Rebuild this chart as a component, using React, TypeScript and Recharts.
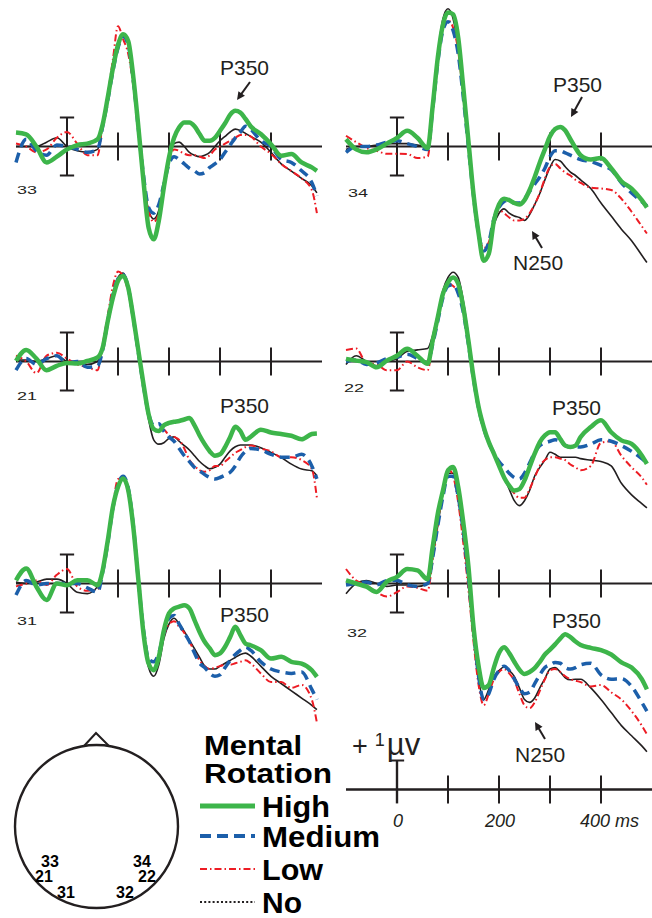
import React from 'react';
import { LineChart, Line, XAxis, YAxis, ReferenceLine } from 'recharts';

// time points (ms)
const TIMES = [
  -100, -80, -60, -40, -20, 0, 20, 40, 60, 70,
  80, 90, 100, 110, 120, 130, 140, 150, 160, 170,
  180, 190, 200, 210, 220, 230, 240, 250, 260, 270,
  280, 290, 300, 310, 320, 330, 340, 350, 360, 380,
  400, 420, 440, 460, 480, 490,
];

// ---- electrode 33 ----
const E33_HIGH = [
  0.48, 0.42, 0.0, -0.55, -0.35, -0.1, 0.05, 0.1, 0.25, 0.77,
  1.7, 2.7, 3.5, 3.87, 3.64, 2.4, 0.66, -1.2, -2.8, -3.2,
  -2.56, -1.4, -0.38, 0.3, 0.66, 0.83, 0.83, 0.7, 0.43, 0.2,
  0.2, 0.3, 0.54, 0.8, 1.1, 1.23, 1.17, 0.95, 0.7, 0.43,
  0.08, -0.32, -0.26, -0.55, -0.72, -0.84,
];
const E33_MEDIUM = [
  -0.55, 0.25, -0.15, -0.3, 0.05, 0.0, -0.1, -0.2, -0.1, 0.7,
  1.6, 2.6, 3.4, 3.8, 3.5, 2.3, 0.6, -1.0, -2.1, -2.3,
  -2.0, -1.3, -0.6, -0.35, -0.45, -0.6, -0.75, -0.84, -0.95, -0.9,
  -0.72, -0.6, -0.45, -0.2, 0.05, 0.3, 0.5, 0.7, 0.6, 0.2,
  0.0, -0.44, -0.55, -0.84, -1.24, -1.7,
];
const E33_LOW = [
  0.1, 0.0, -0.2, -0.1, 0.3, 0.5, 0.1, -0.3, -0.3, 0.8,
  1.8, 3.0, 4.15, 3.7, 3.2, 2.1, 0.5, -1.1, -2.2, -2.6,
  -2.3, -1.4, -0.5, -0.1, -0.15, -0.25, -0.3, -0.3, -0.35, -0.4,
  -0.3, -0.1, 0.0, 0.1, 0.2, 0.3, 0.4, 0.4, 0.35, 0.0,
  -0.25, -0.6, -0.85, -1.1, -1.5, -2.3,
];
const E33_NO = [
  0.0, 0.0, 0.0, 0.15, 0.3, 0.0, -0.15, -0.2, -0.1, 0.7,
  1.7, 2.8, 3.6, 3.85, 3.5, 2.3, 0.6, -1.1, -2.2, -2.5,
  -2.2, -1.3, -0.3, 0.1, 0.15, 0.0, -0.2, -0.3, -0.35, -0.3,
  -0.2, 0.0, 0.2, 0.35, 0.5, 0.6, 0.55, 0.45, 0.35, 0.15,
  -0.2, -0.6, -0.85, -1.1, -1.35, -1.6,
];

// ---- electrode 34 ----
const E34_HIGH = [
  0.25, -0.1, -0.2, -0.1, 0.1, 0.3, 0.54, 0.3, -0.05, 1.4,
  3.07, 4.2, 4.62, 4.56, 3.76, 2.03, 0.2, -1.64, -3.0, -3.94,
  -3.7, -2.56, -2.0, -1.8, -1.85, -1.95, -2.0, -1.85, -1.5, -1.05,
  -0.55, -0.1, 0.35, 0.6, 0.67, 0.55, 0.25, -0.05, -0.3, -0.45,
  -0.4, -0.75, -1.2, -1.45, -1.85, -2.1,
];
const E34_MEDIUM = [
  -0.2, 0.0, 0.0, 0.05, 0.15, 0.2, 0.1, 0.0, -0.1, 1.3,
  2.9, 4.0, 4.3, 4.0, 3.2, 1.7, 0.0, -1.7, -3.0, -3.6,
  -3.3, -2.5, -2.1, -1.9, -1.85, -1.95, -1.95, -1.8, -1.55, -1.3,
  -1.05, -0.75, -0.35, -0.15, -0.15, -0.22, -0.3, -0.38, -0.45, -0.52,
  -0.65, -0.8, -1.25, -1.6, -1.9, -2.05,
];
const E34_LOW = [
  0.37, 0.15, -0.05, -0.15, -0.25, -0.25, -0.26, -0.4, -0.35, 1.2,
  2.9, 4.1, 4.35, 4.1, 3.3, 1.7, 0.0, -1.7, -3.0, -3.5,
  -3.3, -2.6, -2.2, -2.3, -2.45, -2.55, -2.55, -2.5, -2.3, -2.0,
  -1.6, -1.1, -0.7, -0.6, -0.75, -0.9, -1.0, -1.15, -1.25, -1.42,
  -1.45, -1.5, -1.8, -2.25, -2.75, -3.0,
];
const E34_NO = [
  -0.1, 0.0, 0.0, 0.05, 0.1, 0.1, 0.1, 0.05, 0.0, 1.5,
  3.2, 4.4, 4.75, 4.4, 3.4, 1.8, 0.0, -1.7, -3.0, -3.6,
  -3.4, -2.7, -2.3, -2.15, -2.3, -2.4, -2.45, -2.55, -2.35, -2.0,
  -1.62, -1.15, -0.72, -0.45, -0.5, -0.7, -0.88, -1.0, -1.15, -1.45,
  -1.95, -2.4, -2.85, -3.25, -3.75, -4.0,
];

// ---- electrode 21 ----
const E21_HIGH = [
  0.02, 0.4, 0.1, -0.3, -0.15, -0.05, -0.07, 0.02, 0.14, 0.48,
  1.4, 2.2, 2.78, 2.95, 2.55, 1.52, 0.37, -0.78, -1.82, -2.33,
  -2.4, -2.2, -2.12, -2.08, -2.05, -2.0, -1.95, -2.2, -2.55, -2.85,
  -3.1, -3.25, -3.2, -2.95, -2.6, -2.25, -2.4, -2.7, -2.6, -2.35,
  -2.45, -2.5, -2.56, -2.68, -2.5, -2.48,
];
const E21_MEDIUM = [
  -0.3, 0.1, -0.1, 0.1, 0.2, -0.05, 0.0, -0.2, -0.15, 0.4,
  1.4, 2.3, 2.85, 3.0, 2.55, 1.5, 0.3, -0.85, -1.8, -2.2,
  -2.15, -2.4, -2.6, -2.75, -3.0, -3.25, -3.45, -3.65, -3.77, -3.9,
  -4.0, -4.05, -4.0, -3.92, -3.82, -3.6, -3.3, -3.1, -3.0, -3.05,
  -3.2, -3.3, -3.3, -3.2, -3.6, -4.05,
];
const E21_LOW = [
  0.2, 0.0, -0.4, 0.2, 0.3, 0.1, -0.1, -0.2, -0.3, 0.6,
  1.6, 2.6, 3.1, 2.95, 2.4, 1.4, 0.2, -0.9, -1.9, -2.3,
  -2.4, -2.35, -2.55, -2.6, -2.7, -3.0, -3.4, -3.6, -3.75, -3.8,
  -3.75, -3.6, -3.6, -3.45, -3.3, -3.15, -3.05, -2.95, -2.9, -3.0,
  -3.1, -3.3, -3.3, -3.4, -3.7, -4.7,
];
const E21_NO = [
  0.05, 0.05, 0.0, 0.1, 0.2, 0.0, -0.05, -0.1, 0.0, 0.5,
  1.4, 2.3, 2.9, 3.05, 2.6, 1.5, 0.3, -0.9, -2.0, -2.7,
  -2.85, -2.8, -2.65, -2.6, -2.75, -2.9, -3.05, -3.25, -3.45, -3.6,
  -3.7, -3.65, -3.54, -3.3, -3.08, -2.94, -2.88, -2.88, -2.88, -2.97,
  -3.14, -3.31, -3.54, -3.71, -3.77, -3.94,
];

// ---- electrode 22 ----
const E22_HIGH = [
  0.09, 0.03, -0.02, -0.2, 0.03, 0.2, 0.44, 0.2, -0.08, 0.72,
  1.53, 2.33, 2.73, 2.9, 2.68, 1.87, 0.72, -0.54, -1.57, -2.26,
  -2.78, -3.18, -3.59, -4.0, -4.28, -4.45, -4.4, -4.1, -3.64, -3.18,
  -2.78, -2.55, -2.44, -2.44, -2.67, -2.9, -2.95, -2.9, -2.6, -2.26,
  -2.03, -2.44, -2.72, -2.84, -3.24, -3.53,
];
const E22_MEDIUM = [
  0.0, 0.05, -0.1, -0.05, 0.1, 0.15, 0.25, 0.1, -0.05, 0.6,
  1.4, 2.2, 2.6, 2.65, 2.35, 1.7, 0.6, -0.6, -1.6, -2.3,
  -2.8, -3.15, -3.45, -3.65, -3.85, -4.0, -4.05, -3.85, -3.5, -3.15,
  -2.9, -2.8, -2.75, -2.7, -2.75, -2.9, -2.95, -2.95, -2.95, -2.85,
  -2.7, -2.75, -2.9, -3.1, -3.35, -3.5,
];
const E22_LOW = [
  0.4, 0.45, -0.05, -0.1, -0.3, -0.3, 0.0, -0.2, -0.3, 0.6,
  1.5, 2.4, 2.7, 2.6, 2.4, 1.9, 0.8, -0.5, -1.6, -2.3,
  -2.8, -3.2, -3.6, -4.0, -4.3, -4.55, -4.7, -4.7, -4.4, -4.0,
  -3.6, -3.4, -3.3, -3.3, -3.35, -3.4, -3.55, -3.65, -3.75, -3.6,
  -2.8, -2.75, -3.25, -3.65, -4.0, -4.25,
];
const E22_NO = [
  -0.1, 0.2, 0.0, -0.15, 0.0, 0.1, 0.35, 0.4, 0.45, 0.9,
  1.65, 2.45, 2.9, 3.08, 2.9, 2.1, 0.9, -0.5, -1.6, -2.3,
  -2.8, -3.2, -3.6, -4.0, -4.4, -4.8, -4.97, -4.8, -4.45, -3.95,
  -3.65, -3.4, -3.13, -3.2, -3.3, -3.3, -3.3, -3.3, -3.35, -3.4,
  -3.45, -3.6, -4.2, -4.6, -4.9, -5.05,
];

// ---- electrode 31 ----
const E31_HIGH = [
  0.11, 0.52, -0.11, -0.57, 0.0, -0.06, 0.11, 0.11, -0.06, 0.46,
  1.49, 2.64, 3.33, 3.62, 3.22, 1.95, 0.11, -1.72, -2.76, -2.99,
  -2.53, -1.61, -1.03, -0.86, -0.8, -0.75, -0.86, -1.26, -1.67, -2.01,
  -2.24, -2.47, -2.41, -2.18, -1.84, -1.49, -1.78, -2.07, -2.13, -2.3,
  -2.59, -2.53, -2.7, -2.76, -2.99, -3.22,
];
const E31_MEDIUM = [
  -0.4, 0.1, -0.05, 0.0, 0.0, 0.0, 0.0, -0.15, -0.3, 0.4,
  1.4, 2.6, 3.4, 3.7, 3.3, 2.0, 0.1, -1.6, -2.6, -2.7,
  -2.4, -1.7, -1.2, -1.1, -1.4, -1.7, -2.0, -2.4, -2.75, -2.9,
  -3.1, -3.2, -3.15, -2.9, -2.65, -2.45, -2.3, -2.2, -2.3, -2.7,
  -2.95, -3.05, -3.1, -3.05, -3.65, -4.0,
];
const E31_LOW = [
  -0.1, 0.0, 0.1, -0.05, 0.3, 0.5, -0.1, -0.25, -0.2, 0.4,
  1.5, 2.7, 3.6, 3.65, 3.1, 1.8, 0.0, -1.7, -2.7, -2.95,
  -2.6, -1.8, -1.4, -1.3, -1.5, -1.7, -2.0, -2.35, -2.65, -2.85,
  -2.95, -2.9, -2.85, -2.8, -2.8, -2.75, -2.7, -2.65, -2.75, -3.1,
  -3.4, -3.4, -3.6, -3.5, -4.0, -4.8,
];
const E31_NO = [
  0.05, 0.0, 0.05, 0.15, 0.15, 0.0, -0.3, -0.35, -0.1, 0.4,
  1.4, 2.6, 3.4, 3.65, 3.2, 1.9, 0.0, -1.8, -2.9, -3.2,
  -2.8, -1.9, -1.4, -1.2, -1.4, -1.65, -1.95, -2.25, -2.55, -2.85,
  -2.95, -2.95, -2.85, -2.75, -2.65, -2.55, -2.45, -2.4, -2.5, -2.85,
  -3.2, -3.45, -3.7, -3.95, -4.2, -4.35,
];

// ---- electrode 32 ----
const E32_HIGH = [
  0.11, 0.0, -0.11, -0.29, 0.06, 0.23, 0.5, 0.45, 0.15, 1.26,
  2.41, 3.2, 3.9, 4.02, 3.33, 2.1, 0.6, -1.5, -2.85, -3.6,
  -3.5, -2.9, -2.4, -2.2, -2.4, -2.7, -2.97, -3.12, -3.05, -2.92,
  -2.7, -2.45, -2.28, -2.1, -1.9, -1.75, -1.85, -2.0, -2.12, -2.22,
  -2.3, -2.45, -2.72, -2.9, -3.3, -3.65,
];
const E32_MEDIUM = [
  -0.05, 0.0, 0.05, -0.05, 0.1, 0.1, -0.05, -0.1, 0.0, 0.9,
  2.0, 3.0, 3.7, 3.7, 3.0, 1.8, 0.2, -1.6, -3.2, -4.0,
  -3.8, -3.3, -3.0, -2.85, -3.0, -3.3, -3.6, -3.8, -3.75, -3.45,
  -3.15, -2.9, -2.8, -2.72, -2.75, -2.9, -2.95, -2.9, -2.8, -2.75,
  -3.15, -3.3, -3.28, -3.55, -4.1, -4.4,
];
const E32_LOW = [
  0.5, 0.1, -0.05, -0.3, -0.45, -0.3, -0.1, -0.15, -0.25, 0.8,
  2.0, 3.2, 3.95, 3.7, 2.8, 1.4, -0.2, -2.0, -3.5, -4.2,
  -3.8, -3.3, -3.05, -2.95, -3.1, -3.35, -3.8, -4.2, -4.3, -4.1,
  -3.7, -3.3, -3.0, -2.95, -3.05, -3.2, -3.3, -3.35, -3.4, -3.55,
  -3.5, -3.75, -4.0, -4.4, -4.9, -5.2,
];
const E32_NO = [
  -0.35, 0.0, 0.1, 0.0, -0.1, -0.05, -0.05, -0.1, 0.0, 0.9,
  2.0, 3.1, 3.8, 3.8, 3.0, 1.7, 0.0, -1.8, -3.3, -4.0,
  -3.65, -3.2, -3.0, -2.88, -3.0, -3.2, -3.6, -4.0, -4.1, -3.95,
  -3.6, -3.28, -2.95, -2.9, -3.05, -3.25, -3.32, -3.3, -3.3, -3.6,
  -4.0, -4.45, -4.9, -5.25, -5.6, -5.8,
];

const AXIS_TICKS = [100, 200, 300, 400];
const SCALE_RANGE = [-100, 500];
const SCALE_LABELS = ['0', '200', '400 ms'];
const CONDITIONS = ['High', 'Medium', 'Low', 'No'];
const ELECTRODES = ['33', '34', '21', '22', '31', '32'];

// ---- styling ----
const INK = '#231f20';
const GREEN = '#3db54a';
const BLUE = '#1c5faa';
const RED = '#ed1c24';
const FONT = '"Liberation Sans", Arial, Helvetica, sans-serif';

const PX_PER_UV = 29;
const Y_TOP = 5.5;
const Y_BOT = -6.5;
const PLOT_W = 306;
const M = 12;
const MT = 8;

const build = (h: number[], m: number[], l: number[], n: number[]) =>
  TIMES.map((t, i) => ({ t, high: h[i], medium: m[i], low: l[i], no: n[i] }));

const PANELS = [
  { id: '33', plotLeft: 16, baseline: 146, data: build(E33_HIGH, E33_MEDIUM, E33_LOW, E33_NO) },
  { id: '34', plotLeft: 346, baseline: 146, data: build(E34_HIGH, E34_MEDIUM, E34_LOW, E34_NO) },
  { id: '21', plotLeft: 16, baseline: 361, data: build(E21_HIGH, E21_MEDIUM, E21_LOW, E21_NO) },
  { id: '22', plotLeft: 346, baseline: 361, data: build(E22_HIGH, E22_MEDIUM, E22_LOW, E22_NO) },
  { id: '31', plotLeft: 16, baseline: 583, data: build(E31_HIGH, E31_MEDIUM, E31_LOW, E31_NO) },
  { id: '32', plotLeft: 346, baseline: 583, data: build(E32_HIGH, E32_MEDIUM, E32_LOW, E32_NO) },
];

const chartHeight = (Y_TOP - Y_BOT) * PX_PER_UV + 2 * MT;

function axisMarks(withErrorBar: boolean, scaleBar: boolean) {
  const els: any[] = [];
  els.push(<ReferenceLine key="zero" y={0} stroke={INK} strokeWidth={2} />);
  AXIS_TICKS.forEach((t) =>
    els.push(
      <ReferenceLine
        key={'tk' + t}
        segment={[{ x: t, y: -0.48 }, { x: t, y: 0.48 }]}
        stroke={INK}
        strokeWidth={2}
      />
    )
  );
  if (withErrorBar) {
    els.push(
      <ReferenceLine key="eb" segment={[{ x: 0, y: -1 }, { x: 0, y: 1 }]} stroke={INK} strokeWidth={2} />,
      <ReferenceLine key="ebt" segment={[{ x: -14, y: 1 }, { x: 14, y: 1 }]} stroke={INK} strokeWidth={2} />,
      <ReferenceLine key="ebb" segment={[{ x: -14, y: -1 }, { x: 14, y: -1 }]} stroke={INK} strokeWidth={2} />
    );
  }
  if (scaleBar) {
    els.push(
      <ReferenceLine key="sb" segment={[{ x: 0, y: -0.48 }, { x: 0, y: 1 }]} stroke={INK} strokeWidth={2.4} />,
      <ReferenceLine key="sbt" segment={[{ x: -14, y: 1 }, { x: 14, y: 1 }]} stroke={INK} strokeWidth={2} />
    );
  }
  return els;
}

function Panel({ plotLeft, baseline, data }: { plotLeft: number; baseline: number; data: any[] }) {
  return (
    <div style={{ position: 'absolute', left: plotLeft - M, top: baseline - Y_TOP * PX_PER_UV - MT }}>
      <LineChart
        width={PLOT_W + 2 * M}
        height={chartHeight}
        data={data}
        margin={{ top: MT, right: M, bottom: MT, left: M }}
      >
        <XAxis dataKey="t" type="number" domain={[-100, 500]} hide />
        <YAxis type="number" domain={[Y_BOT, Y_TOP]} hide />
        {axisMarks(true, false)}
        <Line type="monotone" dataKey="no" stroke={INK} strokeWidth={1.6} dot={false} isAnimationActive={false} />
        <Line type="monotone" dataKey="low" stroke={RED} strokeWidth={2} strokeDasharray="7 3 1.5 3" dot={false} isAnimationActive={false} />
        <Line type="monotone" dataKey="medium" stroke={BLUE} strokeWidth={3.5} strokeDasharray="10 6" dot={false} isAnimationActive={false} />
        <Line type="monotone" dataKey="high" stroke={GREEN} strokeWidth={4.5} dot={false} isAnimationActive={false} />
      </LineChart>
    </div>
  );
}

function ScaleBar() {
  const baseline = 789;
  const data = SCALE_RANGE.map((t) => ({ t, v: 0 }));
  return (
    <div style={{ position: 'absolute', left: 346 - M, top: baseline - Y_TOP * PX_PER_UV - MT }}>
      <LineChart width={PLOT_W + 2 * M} height={chartHeight} data={data} margin={{ top: MT, right: M, bottom: MT, left: M }}>
        <XAxis dataKey="t" type="number" domain={[-100, 500]} hide />
        <YAxis type="number" domain={[Y_BOT, Y_TOP]} hide />
        {axisMarks(false, true)}
        <Line type="linear" dataKey="v" stroke={INK} strokeWidth={2} dot={false} isAnimationActive={false} />
      </LineChart>
    </div>
  );
}

function Arrow({ x1, y1, x2, y2 }: { x1: number; y1: number; x2: number; y2: number }) {
  const dx = x2 - x1;
  const dy = y2 - y1;
  const len = Math.sqrt(dx * dx + dy * dy);
  const ux = dx / len;
  const uy = dy / len;
  const hl = 8;
  const hw = 4;
  const bx = x2 - ux * hl;
  const by = y2 - uy * hl;
  const p1 = `${bx - uy * hw},${by + ux * hw}`;
  const p2 = `${bx + uy * hw},${by - ux * hw}`;
  return (
    <g>
      <line x1={x1} y1={y1} x2={bx + ux * 2} y2={by + uy * 2} stroke={INK} strokeWidth={2} />
      <polygon points={`${x2},${y2} ${p1} ${p2}`} fill={INK} />
    </g>
  );
}

const PANEL_LABEL_POS: Record<string, [number, number]> = {
  '33': [17, 194],
  '34': [348, 197],
  '21': [17, 400],
  '22': [344, 392],
  '31': [17, 625],
  '32': [347, 637],
};

const HEAD_LABEL_POS: Record<string, [number, number]> = {
  '33': [50, 867],
  '34': [142, 867],
  '21': [44, 882],
  '22': [147, 882],
  '31': [66, 898],
  '32': [125, 898],
};

const LEGEND_STYLE: Record<string, { color: string; width: number; dash?: string; y: number; textLen: number }> = {
  High: { color: GREEN, width: 5, y: 806, textLen: 68 },
  Medium: { color: BLUE, width: 4, dash: '11 6', y: 836, textLen: 118 },
  Low: { color: RED, width: 2.2, dash: '7 3 1.5 3', y: 869, textLen: 61 },
  No: { color: INK, width: 2, dash: '2 2.2', y: 902, textLen: 40 },
};

function Overlay() {
  return (
    <svg
      width={652}
      height={918}
      style={{ position: 'absolute', left: 0, top: 0, pointerEvents: 'none' }}
      fontFamily={FONT}
    >
      {/* panel electrode labels */}
      {ELECTRODES.map((e) => (
        <text
          key={'pl' + e}
          x={PANEL_LABEL_POS[e][0]}
          y={PANEL_LABEL_POS[e][1]}
          fontSize={11}
          textLength={20}
          lengthAdjust="spacingAndGlyphs"
          fill={INK}
        >
          {e}
        </text>
      ))}

      {/* component annotations */}
      <text x={220} y={75} fontSize={21} fill={INK}>P350</text>
      <Arrow x1={250} y1={82} x2={237} y2={100} />
      <text x={553} y={92} fontSize={21} fill={INK}>P350</text>
      <Arrow x1={582} y1={97} x2={571} y2={117} />
      <text x={513} y={270} fontSize={21} fill={INK}>N250</text>
      <Arrow x1={542} y1={248} x2={532} y2={231} />
      <text x={220} y={413} fontSize={21} fill={INK}>P350</text>
      <text x={552} y={415} fontSize={21} fill={INK}>P350</text>
      <text x={220} y={622} fontSize={21} fill={INK}>P350</text>
      <text x={552} y={628} fontSize={21} fill={INK}>P350</text>
      <text x={515} y={762} fontSize={21} fill={INK}>N250</text>
      <Arrow x1={545} y1={739} x2={535} y2={722} />

      {/* scale bar labels */}
      <text x={352} y={755} fontSize={27} fill={INK}>
        +<tspan fontSize={18} dx={7} dy={-9}>1</tspan>
        <tspan fontSize={31} dx={2} dy={9}>µv</tspan>
      </text>
      <text x={398} y={827} fontSize={18} fontStyle="italic" textAnchor="middle" fill={INK}>{SCALE_LABELS[0]}</text>
      <text x={500} y={827} fontSize={18} fontStyle="italic" textAnchor="middle" fill={INK}>{SCALE_LABELS[1]}</text>
      <text x={580} y={827} fontSize={18} fontStyle="italic" fill={INK}>{SCALE_LABELS[2]}</text>

      {/* head */}
      <polygon points="84,746 96,733 109,746" fill="white" stroke={INK} strokeWidth={2} strokeLinejoin="miter" />
      <circle cx={96.5} cy={826.5} r={81.5} fill="white" stroke={INK} strokeWidth={2.4} />
      {ELECTRODES.map((e) => (
        <text
          key={'hl' + e}
          x={HEAD_LABEL_POS[e][0]}
          y={HEAD_LABEL_POS[e][1]}
          fontSize={16}
          fontWeight="bold"
          textAnchor="middle"
          fill="#000"
        >
          {e}
        </text>
      ))}

      {/* legend */}
      <text x={204} y={755} fontSize={27} fontWeight="bold" textLength={98} lengthAdjust="spacingAndGlyphs" fill="#000">Mental</text>
      <text x={204} y={783} fontSize={27} fontWeight="bold" textLength={128} lengthAdjust="spacingAndGlyphs" fill="#000">Rotation</text>
      {CONDITIONS.map((c) => {
        const s = LEGEND_STYLE[c];
        return (
          <g key={'lg' + c}>
            <line x1={200} y1={s.y} x2={255} y2={s.y} stroke={s.color} strokeWidth={s.width} strokeDasharray={s.dash} />
            <text x={262} y={s.y + 11} fontSize={29} fontWeight="bold" textLength={s.textLen} lengthAdjust="spacingAndGlyphs" fill="#000">
              {c}
            </text>
          </g>
        );
      })}
    </svg>
  );
}

export default function App() {
  return (
    <div
      style={{
        position: 'absolute',
        left: 0,
        top: 0,
        width: 652,
        height: 918,
        overflow: 'hidden',
        background: '#fff',
      }}
    >
      {PANELS.map((p) => (
        <Panel key={p.id} plotLeft={p.plotLeft} baseline={p.baseline} data={p.data} />
      ))}
      <ScaleBar />
      <Overlay />
    </div>
  );
}
